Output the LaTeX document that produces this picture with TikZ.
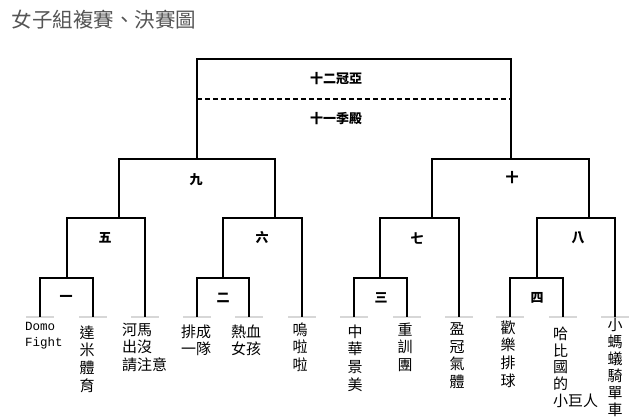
\documentclass[tikz,border=0pt]{standalone}
\usepackage{fontspec}
\newfontfamily\cjk{Noto Sans CJK TC}
\newfontfamily\mono{Liberation Mono}
\definecolor{titlegray}{RGB}{85,85,85}
\definecolor{basegray}{RGB}{215,215,215}
\begin{document}
\begin{tikzpicture}[x=1pt,y=-1pt,
  bline/.style={line width=1.5pt,black},
  gline/.style={line width=2pt,basegray},
  mlabel/.style={font=\cjk\bfseries\fontsize{13}{15}\selectfont,inner sep=0pt},
  leaf/.style={font=\cjk\fontsize{15}{17.6}\selectfont,inner sep=0pt,align=left},
  vleaf/.style={font=\cjk\fontsize{15}{17.6}\selectfont,inner sep=0pt,align=center,anchor=north}]
\useasboundingbox (0,0) rectangle (643,417);
% title
\node[font=\cjk\fontsize{20.5}{22}\selectfont,text=titlegray,anchor=west,inner sep=0pt] (title) at (11.5,20) {女子組複賽、決賽圖};
% ---- coordinates of bracket ----
% final box
\coordinate (TL) at (197,159); \coordinate (TR) at (511,159);
% semifinal boxes
\coordinate (N9L) at (119,218); \coordinate (N9R) at (275,218);
\coordinate (N10L) at (432,218); \coordinate (N10R) at (589,218);
% quarter boxes
\coordinate (N5L) at (67,278); \coordinate (N5R) at (145,317);
\coordinate (N6L) at (223,278); \coordinate (N6R) at (302,317);
\coordinate (N7L) at (380,278); \coordinate (N7R) at (459,317);
\coordinate (N8L) at (537,278); \coordinate (N8R) at (615,317);
% first round
\coordinate (N1L) at (40,317); \coordinate (N1R) at (93,317);
\coordinate (N2L) at (197,317); \coordinate (N2R) at (249,317);
\coordinate (N3L) at (354,317); \coordinate (N3R) at (407,317);
\coordinate (N4L) at (510,317); \coordinate (N4R) at (563,317);
% grey base segments
\foreach \p in {N1L,N1R,N5R,N2L,N2R,N6R,N3L,N3R,N7R,N4L,N4R,N8R}
  \draw[gline] ([xshift=-14pt]\p) -- ([xshift=14pt]\p);
% final box
\draw[bline] (TL) |- (336,59) -| (TR);
\draw[line width=1.3pt,dash pattern=on 5pt off 3pt] (197,99) -- (511,99);
% semis
\draw[bline] (N9L) |- (TL) -| (N9R);
\draw[bline] (N10L) |- (TR) -| (N10R);
% quarters
\draw[bline] (N5L) |- (N9L) -| (N5R);
\draw[bline] (N6L) |- (N9R) -| (N6R);
\draw[bline] (N7L) |- (N10L) -| (N7R);
\draw[bline] (N8L) |- (N10R) -| (N8R);
% first round
\draw[bline] (N1L) |- (N5L) -| (N1R);
\draw[bline] (N2L) |- (N6L) -| (N2R);
\draw[bline] (N3L) |- (N7L) -| (N3R);
\draw[bline] (N4L) |- (N8L) -| (N4R);
% match labels
\node[mlabel] (m12) at (336,79) {十二冠亞};
\node[mlabel] (m11) at (336,119) {十一季殿};
\node[mlabel] (m9) at (196,180) {九};
\node[mlabel] (m10) at (512,178) {十};
\node[mlabel] (m5) at (105,238) {五};
\node[mlabel] (m6) at (262,238) {六};
\node[mlabel] (m7) at (417,238) {七};
\node[mlabel] (m8) at (578,238) {八};
\node[mlabel] (m1) at (66,298) {一};
\node[mlabel] (m2) at (223,298) {二};
\node[mlabel] (m3) at (381,298) {三};
\node[mlabel] (m4) at (537,298) {四};
% leaves
\node[font=\mono\fontsize{12.5}{15.5}\selectfont,inner sep=0pt,align=left,anchor=north west] (t1) at (25,322.5) {Domo\\Fight};
\node[vleaf] (t2) at (87,325.5) {達\\米\\體\\育};
\node[leaf,anchor=north west] (t3) at (122,322.5) {河馬\\出沒\\請注意};
\node[leaf,anchor=north west] (t4) at (181,324.5) {排成\\一隊};
\node[leaf,anchor=north west] (t5) at (231,324.5) {熱血\\女孩};
\node[vleaf] (t6) at (300,322.5) {嗚\\啦\\啦};
\node[vleaf] (t7) at (355,324.5) {中\\華\\景\\美};
\node[vleaf] (t8) at (405,322.5) {重\\訓\\團};
\node[vleaf] (t9) at (457,322.5) {盈\\冠\\氣\\體};
\node[vleaf] (t10) at (508,320.5) {歡\\樂\\排\\球};
\node[font=\cjk\fontsize{15}{16.8}\selectfont,inner sep=0pt,align=left,anchor=north west] (t11) at (553,326.5) {哈\\比\\國\\的\\小巨人};
\node[font=\cjk\fontsize{15}{17}\selectfont,inner sep=0pt,align=center,anchor=north] (t12) at (615,317.5) {小\\螞\\蟻\\騎\\單\\車};
\end{tikzpicture}
\end{document}
